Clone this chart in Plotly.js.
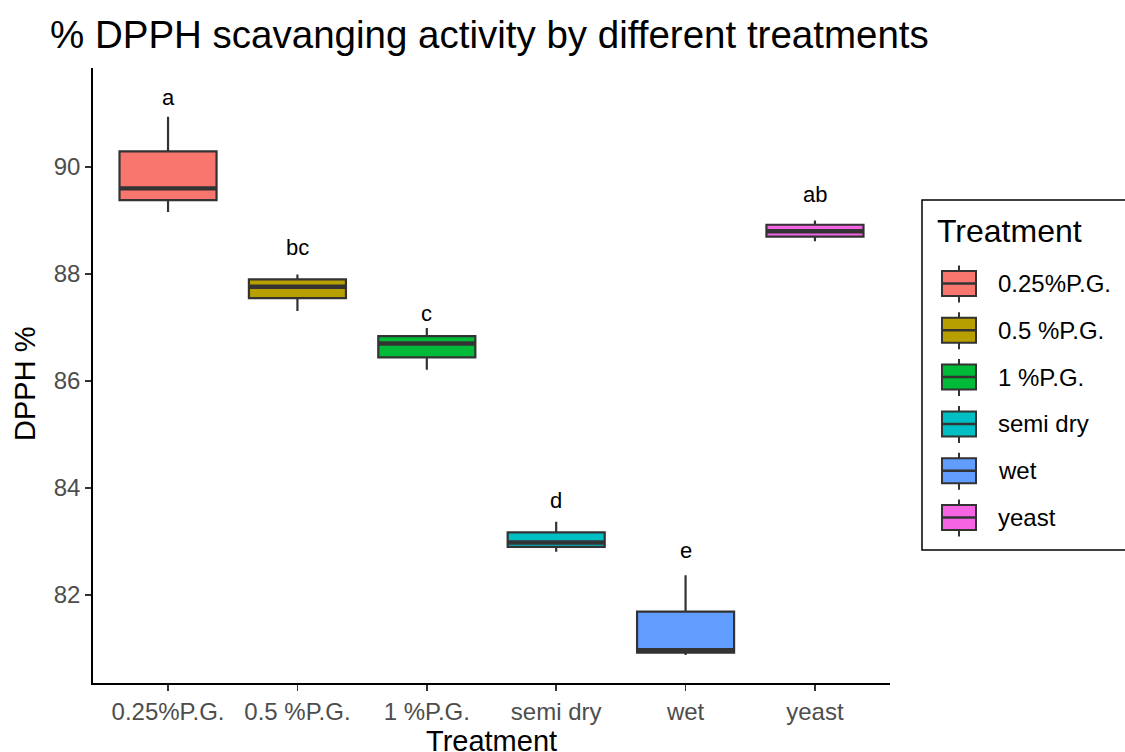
<!DOCTYPE html>
<html>
<head>
<meta charset="utf-8">
<script src="https://cdn.plot.ly/plotly-3.0.1.min.js"></script>
<style>
  html, body { margin: 0; padding: 0; background: #ffffff; }
  #chart { width: 1125px; height: 752px; }
</style>
</head>
<body>
<div id="chart"></div>
<script>
// Treatments and their box-plot summaries (DPPH scavenging, %)
const categories = ['0.25%P.G.', '0.5 %P.G.', '1 %P.G.', 'semi dry', 'wet', 'yeast'];
const lowerWhisker = [89.16, 87.31, 86.21, 82.81, 80.88, 88.61];
const q1 = [89.38, 87.55, 86.44, 82.90, 80.92, 88.70];
const median = [89.60, 87.76, 86.70, 82.98, 80.97, 88.80];
const q3 = [90.29, 87.90, 86.84, 83.17, 81.69, 88.92];
const upperWhisker = [90.94, 87.99, 86.99, 83.37, 82.37, 89.00];
// Significance grouping letters and where they sit on the y scale
const letters = ['a', 'bc', 'c', 'd', 'e', 'ab'];
const letterY = [91.29, 88.49, 87.27, 83.77, 82.84, 89.48];
const colors = ['#F8766D', '#B79F00', '#00BA38', '#00BFC4', '#619CFF', '#F564E3'];

const FONT = 'Liberation Sans, Arial, sans-serif';
const BOX_W = 0.75;
const EDGE = '#333333';

// Plot area in pixels, used to place the hand-drawn legend and axis titles
const PLOT = { l: 93, r: 890, t: 68, b: 683 };
const px = x => (x - PLOT.l) / (PLOT.r - PLOT.l);
const py = y => (PLOT.b - y) / (PLOT.b - PLOT.t);

const traces = [];
categories.forEach((name, i) => {
  traces.push({
    type: 'box',
    name: name,
    x: [i],
    q1: [q1[i]],
    median: [median[i]],
    q3: [q3[i]],
    lowerfence: [lowerWhisker[i]],
    upperfence: [upperWhisker[i]],
    width: BOX_W,
    whiskerwidth: 0,
    fillcolor: colors[i],
    line: { color: EDGE, width: 2.2 },
    boxpoints: false,
    showlegend: false,
    hoverinfo: 'skip'
  });
});
// Heavier median bars, as in ggplot boxplots
categories.forEach((name, i) => {
  traces.push({
    type: 'scatter',
    mode: 'lines',
    x: [i - BOX_W / 2, i + BOX_W / 2],
    y: [median[i], median[i]],
    line: { color: EDGE, width: 4.4 },
    showlegend: false,
    hoverinfo: 'skip'
  });
});

const annotations = letters.map((t, i) => ({
  x: i, y: letterY[i], xref: 'x', yref: 'y',
  text: t, showarrow: false,
  font: { family: FONT, size: 22, color: '#000000' }
}));

// Axis titles
annotations.push({
  xref: 'paper', yref: 'paper', x: 0.5, y: py(741),
  xanchor: 'center', yanchor: 'middle', showarrow: false,
  text: 'Treatment', font: { family: FONT, size: 29, color: '#000000' }
});
annotations.push({
  xref: 'paper', yref: 'paper', x: px(25), y: py(384),
  xanchor: 'center', yanchor: 'middle', showarrow: false, textangle: -90,
  text: 'DPPH %', font: { family: FONT, size: 29, color: '#000000' }
});

const shapes = [];
// Legend frame
shapes.push({
  type: 'rect', xref: 'paper', yref: 'paper',
  x0: px(922), x1: px(1140), y0: py(550), y1: py(200),
  line: { color: '#000000', width: 1.5 }, fillcolor: 'rgba(0,0,0,0)'
});
annotations.push({
  xref: 'paper', yref: 'paper', x: px(935), y: py(231),
  xanchor: 'left', yanchor: 'middle', showarrow: false,
  text: 'Treatment', font: { family: FONT, size: 32, color: '#000000' }
});
categories.forEach((name, k) => {
  const cy = 283.5 + k * 46.8;
  shapes.push({
    type: 'line', xref: 'paper', yref: 'paper',
    x0: px(959), x1: px(959), y0: py(cy - 18), y1: py(cy + 19),
    line: { color: EDGE, width: 2 }
  });
  shapes.push({
    type: 'rect', xref: 'paper', yref: 'paper',
    x0: px(942), x1: px(976), y0: py(cy + 12.5), y1: py(cy - 12.5),
    fillcolor: colors[k], line: { color: EDGE, width: 2 }
  });
  shapes.push({
    type: 'line', xref: 'paper', yref: 'paper',
    x0: px(942), x1: px(976), y0: py(cy), y1: py(cy),
    line: { color: EDGE, width: 2.5 }
  });
  annotations.push({
    xref: 'paper', yref: 'paper', x: px(996), y: py(cy),
    xanchor: 'left', yanchor: 'middle', showarrow: false,
    text: name, font: { family: FONT, size: 24, color: '#000000' }
  });
});

const layout = {
  width: 1125, height: 752,
  margin: { l: PLOT.l, r: 1125 - PLOT.r, t: PLOT.t, b: 752 - PLOT.b, pad: 0 },
  paper_bgcolor: '#ffffff', plot_bgcolor: '#ffffff',
  showlegend: false,
  boxmode: 'overlay',
  font: { family: FONT },
  title: {
    text: '% DPPH scavanging activity by different treatments',
    xref: 'container', yref: 'container',
    x: 50 / 1125, xanchor: 'left',
    y: 1 - 35 / 752, yanchor: 'middle',
    font: { family: FONT, size: 38.5, color: '#000000' }
  },
  xaxis: {
    range: [-0.58, 5.58],
    tickmode: 'array',
    tickvals: categories.map((_, i) => i),
    ticktext: categories,
    showgrid: false, zeroline: false,
    showline: true, linecolor: '#000000', linewidth: 1.8,
    ticks: 'outside', ticklen: 6, tickwidth: 1.8, tickcolor: '#333333',
    tickfont: { family: FONT, size: 24, color: '#4d4d4d' }
  },
  yaxis: {
    range: [80.355, 91.85],
    tickvals: [82, 84, 86, 88, 90],
    showgrid: false, zeroline: false,
    showline: true, linecolor: '#000000', linewidth: 1.8,
    ticks: 'outside', ticklen: 6, tickwidth: 1.8, tickcolor: '#333333',
    tickfont: { family: FONT, size: 24, color: '#4d4d4d' }
  },
  shapes: shapes,
  annotations: annotations
};

Plotly.newPlot('chart', traces, layout, { displayModeBar: false, staticPlot: true });
</script>
</body>
</html>
